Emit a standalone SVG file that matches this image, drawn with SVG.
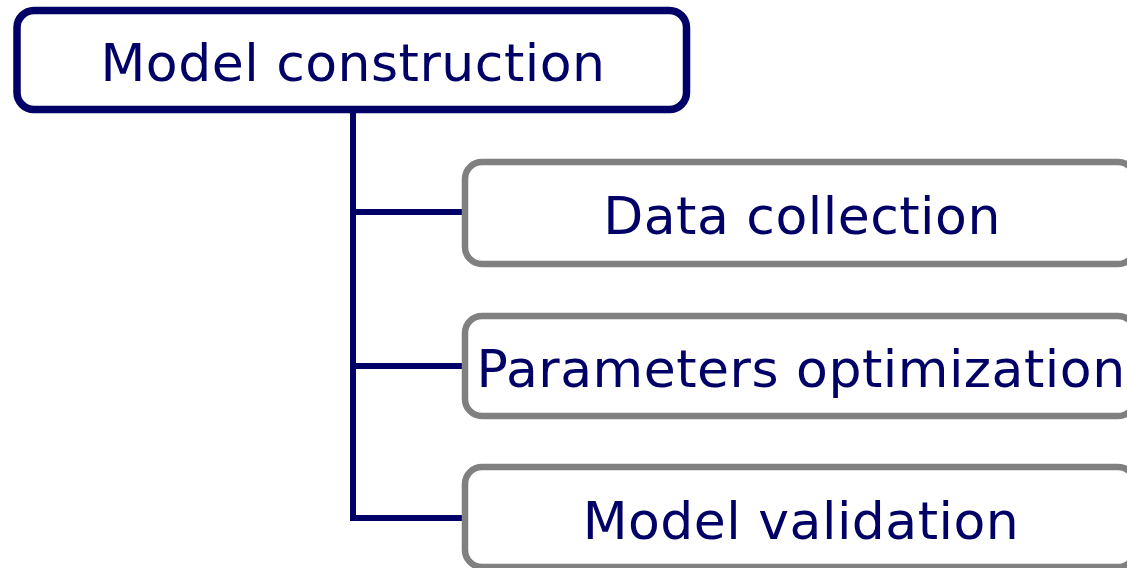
<svg xmlns="http://www.w3.org/2000/svg" width="1127" height="568" viewBox="0 0 1127 568">
<style>
.top{fill:#fff;stroke:#000066;stroke-width:7.5}
.sub{fill:#fff;stroke:#808080;stroke-width:6.5}
.lbl{font-family:"DejaVu Sans",Verdana,sans-serif;font-size:52px;letter-spacing:0.5px;fill:#000066;text-anchor:middle}
.conn{fill:none;stroke:#000066;stroke-width:6}
</style>
<rect width="1127" height="568" fill="#fff"/>
<g id="connectors">
<path class="conn" d="M353 110 V518 H466 M353 212 H466 M353 366 H466"/>
</g>
<g id="model-construction">
<rect class="top" x="17" y="10.5" width="669.5" height="99" rx="17"/>
<text class="lbl" x="353" y="81">Model construction</text>
</g>
<g id="data-collection">
<rect class="sub" x="465" y="162" width="670" height="102" rx="17"/>
<text class="lbl" x="802" y="234">Data collection</text>
</g>
<g id="parameters-optimization">
<rect class="sub" x="465" y="316" width="670" height="100" rx="17"/>
<text class="lbl" x="801" y="387">Parameters optimization</text>
</g>
<g id="model-validation">
<rect class="sub" x="465" y="467" width="670" height="100" rx="17"/>
<text class="lbl" x="801" y="539">Model validation</text>
</g>
</svg>
